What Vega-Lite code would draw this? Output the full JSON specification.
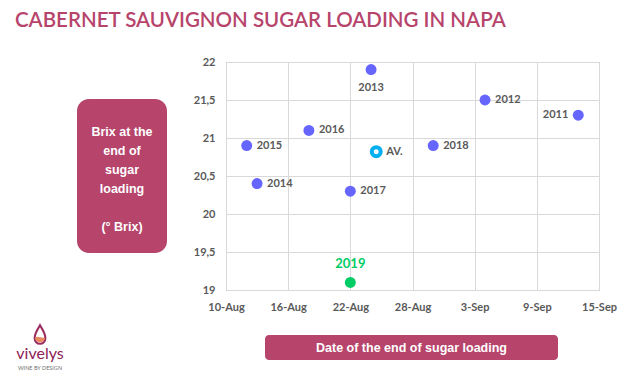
{
  "$schema": "https://vega.github.io/schema/vega-lite/v6.json",
  "background": "white",
  "padding": {"left": 15, "top": 11, "right": 5, "bottom": 3},
  "config": {
    "font": "Lato",
    "view": {"stroke": null}
  },
  "title": {
    "text": "CABERNET SAUVIGNON SUGAR LOADING IN NAPA",
    "anchor": "start",
    "frame": "bounds",
    "font": "Lato",
    "fontSize": 20.5,
    "fontWeight": 600,
    "color": "#B6446B",
    "offset": 24
  },
  "datasets": {
    "harvest": [
      {"label": "2011", "date": "2019-09-13", "brix": 21.3, "kind": "past"},
      {"label": "2012", "date": "2019-09-04", "brix": 21.5, "kind": "past"},
      {"label": "2013", "date": "2019-08-24", "brix": 21.9, "kind": "past"},
      {"label": "2014", "date": "2019-08-13", "brix": 20.4, "kind": "past"},
      {"label": "2015", "date": "2019-08-12", "brix": 20.9, "kind": "past"},
      {"label": "2016", "date": "2019-08-18", "brix": 21.1, "kind": "past"},
      {"label": "2017", "date": "2019-08-22", "brix": 20.3, "kind": "past"},
      {"label": "2018", "date": "2019-08-30", "brix": 20.9, "kind": "past"},
      {"label": "2019", "date": "2019-08-22", "brix": 19.1, "kind": "current"},
      {"label": "AV.", "date": "2019-08-24T12:00:00Z", "brix": 20.82, "kind": "average"}
    ]
  },
  "spacing": 8,
  "vconcat": [
    {
      "spacing": 59,
      "bounds": "flush",
      "center": true,
      "hconcat": [
        {
          "width": 3, "height": 10,
          "data": {"values": [{"blank": ""}]},
          "mark": {"type": "text"},
          "encoding": {"text": {"value": ""}}
        },
        {
          "width": 90, "height": 154,
          "view": {"fill": "#B6446B", "stroke": null, "cornerRadius": 12},
          "data": {"values": [{"part": "title", "label": "Brix at the\nend of\nsugar\nloading"}, {"part": "unit", "label": "(° Brix)"}]},
          "layer": [
            {
              "transform": [{"filter": "datum.part === 'title'"}],
              "mark": {"type": "text", "lineBreak": "\n", "lineHeight": 19, "font": "Liberation Sans", "fontSize": 12.5, "fontWeight": "bold", "color": "white", "align": "center", "baseline": "middle", "dy": -44.5},
              "encoding": {"text": {"field": "label"}}
            },
            {
              "transform": [{"filter": "datum.part === 'unit'"}],
              "mark": {"type": "text", "font": "Liberation Sans", "fontSize": 12.5, "fontWeight": "bold", "color": "white", "align": "center", "baseline": "middle", "dy": 50.5},
              "encoding": {"text": {"field": "label"}}
            }
          ]
        },
        {
          "width": 373, "height": 228,
          "view": {"stroke": "#a6a6a6", "strokeWidth": 1},
          "data": {"name": "harvest"},
          "encoding": {
            "x": {
              "field": "date", "type": "temporal",
              "scale": {"type": "utc", "nice": false, "domain": [{"year": 2019, "month": 8, "date": 10, "utc": true}, {"year": 2019, "month": 9, "date": 15, "utc": true}]},
              "axis": {
                "title": null,
                "values": [
                  {"year": 2019, "month": 8, "date": 10, "utc": true},
                  {"year": 2019, "month": 8, "date": 16, "utc": true},
                  {"year": 2019, "month": 8, "date": 22, "utc": true},
                  {"year": 2019, "month": 8, "date": 28, "utc": true},
                  {"year": 2019, "month": 9, "date": 3, "utc": true},
                  {"year": 2019, "month": 9, "date": 9, "utc": true},
                  {"year": 2019, "month": 9, "date": 15, "utc": true}
                ],
                "labelExpr": "utcFormat(datum.value, '%-d-%b')",
                "grid": true, "gridColor": "#d9d9d9", "domain": false, "ticks": false, "tickSize": 0,
                "labelPadding": 11, "labelFlush": false, "labelOverlap": false,
                "labelFont": "Lato", "labelFontSize": 11, "labelFontWeight": "bold", "labelColor": "#595959"
              }
            },
            "y": {
              "field": "brix", "type": "quantitative",
              "scale": {"domain": [19, 22], "nice": false, "zero": false},
              "axis": {
                "title": null,
                "values": [19, 19.5, 20, 20.5, 21, 21.5, 22],
                "labelExpr": "replace(format(datum.value, '.1~f'), '.', ',')",
                "grid": true, "gridColor": "#d9d9d9", "domain": false, "ticks": false, "tickSize": 0,
                "labelPadding": 11, "labelFlush": false, "labelOverlap": false,
                "labelFont": "Lato", "labelFontSize": 11, "labelFontWeight": "bold", "labelColor": "#595959"
              }
            }
          },
          "layer": [
            {
              "transform": [{"filter": "datum.kind === 'past'"}],
              "mark": {"type": "circle", "size": 120, "color": "#6666FF", "opacity": 1}
            },
            {
              "transform": [{"filter": "datum.kind === 'current'"}],
              "mark": {"type": "circle", "size": 120, "color": "#00CC66", "opacity": 1}
            },
            {
              "transform": [{"filter": "datum.kind === 'average'"}],
              "mark": {"type": "point", "shape": "circle", "size": 80, "filled": false, "color": "#00B0F0", "strokeWidth": 4, "opacity": 1}
            },
            {
              "transform": [{"filter": "indexof(['2012','2014','2015','2016','2017','2018','AV.'], datum.label) >= 0"}],
              "mark": {"type": "text", "align": "left", "baseline": "middle", "dx": 10, "font": "Lato", "fontSize": 11, "fontWeight": "bold", "color": "#595959"},
              "encoding": {"text": {"field": "label"}}
            },
            {
              "transform": [{"filter": "datum.label === '2011'"}],
              "mark": {"type": "text", "align": "right", "baseline": "middle", "dx": -10, "font": "Lato", "fontSize": 11, "fontWeight": "bold", "color": "#595959"},
              "encoding": {"text": {"field": "label"}}
            },
            {
              "transform": [{"filter": "datum.label === '2013'"}],
              "mark": {"type": "text", "align": "center", "baseline": "middle", "dy": 18, "font": "Lato", "fontSize": 11, "fontWeight": "bold", "color": "#595959"},
              "encoding": {"text": {"field": "label"}}
            },
            {
              "transform": [{"filter": "datum.label === '2019'"}],
              "mark": {"type": "text", "align": "center", "baseline": "middle", "dy": -18, "font": "Lato", "fontSize": 13, "fontWeight": "bold", "color": "#00CC66"},
              "encoding": {"text": {"field": "label"}}
            }
          ]
        }
      ]
    },
    {
      "spacing": 12,
      "bounds": "flush",
      "center": false,
      "hconcat": [
        {
          "width": 50, "height": 37,
          "data": {"values": [{"part": "drop"}, {"part": "name", "text": "vivelys"}, {"part": "tagline", "text": "WINE BY DESIGN"}]},
          "encoding": {"y": {"field": "part", "type": "nominal", "scale": {"domain": ["drop", "name", "tagline"], "padding": 0}, "axis": null}},
          "layer": [
            {
              "transform": [{"filter": "datum.part === 'drop'"}],
              "mark": {"type": "point", "shape": "M0,-1 C0.15,-0.7 0.55,-0.25 0.55,0.35 A0.55,0.55 0 0 1 -0.55,0.35 C-0.55,-0.25 -0.15,-0.7 0,-1 Z", "size": 380, "filled": true, "fill": "white", "stroke": "#9B2B5E", "strokeWidth": 2, "opacity": 1}
            },
            {
              "transform": [{"filter": "datum.part === 'drop'"}],
              "mark": {"type": "point", "shape": "M-0.5,0.25 C-0.2,0.05 0.2,0.4 0.5,0.25 A0.5,0.5 0 0 1 -0.5,0.25 Z", "size": 380, "filled": true, "color": "#E8895E", "opacity": 1}
            },
            {
              "transform": [{"filter": "datum.part === 'name'"}],
              "mark": {"type": "text", "font": "Lato", "fontSize": 16, "color": "#8E2356", "baseline": "middle", "dy": 0},
              "encoding": {"text": {"field": "text"}}
            },
            {
              "transform": [{"filter": "datum.part === 'tagline'"}],
              "mark": {"type": "text", "font": "Lato", "fontSize": 5.5, "color": "#707070", "baseline": "middle", "dy": -4},
              "encoding": {"text": {"field": "text"}}
            }
          ]
        },
        {
          "width": 176, "height": 10,
          "data": {"values": [{"blank": ""}]},
          "mark": {"type": "text"},
          "encoding": {"text": {"value": ""}}
        },
        {
          "width": 293, "height": 25,
          "view": {"fill": "#B6446B", "stroke": null, "cornerRadius": 4},
          "data": {"values": [{"label": "Date of the end of sugar loading"}]},
          "mark": {"type": "text", "font": "Liberation Sans", "fontSize": 12.5, "fontWeight": "bold", "color": "white", "align": "center", "baseline": "middle"},
          "encoding": {"text": {"field": "label"}}
        }
      ]
    }
  ]
}
